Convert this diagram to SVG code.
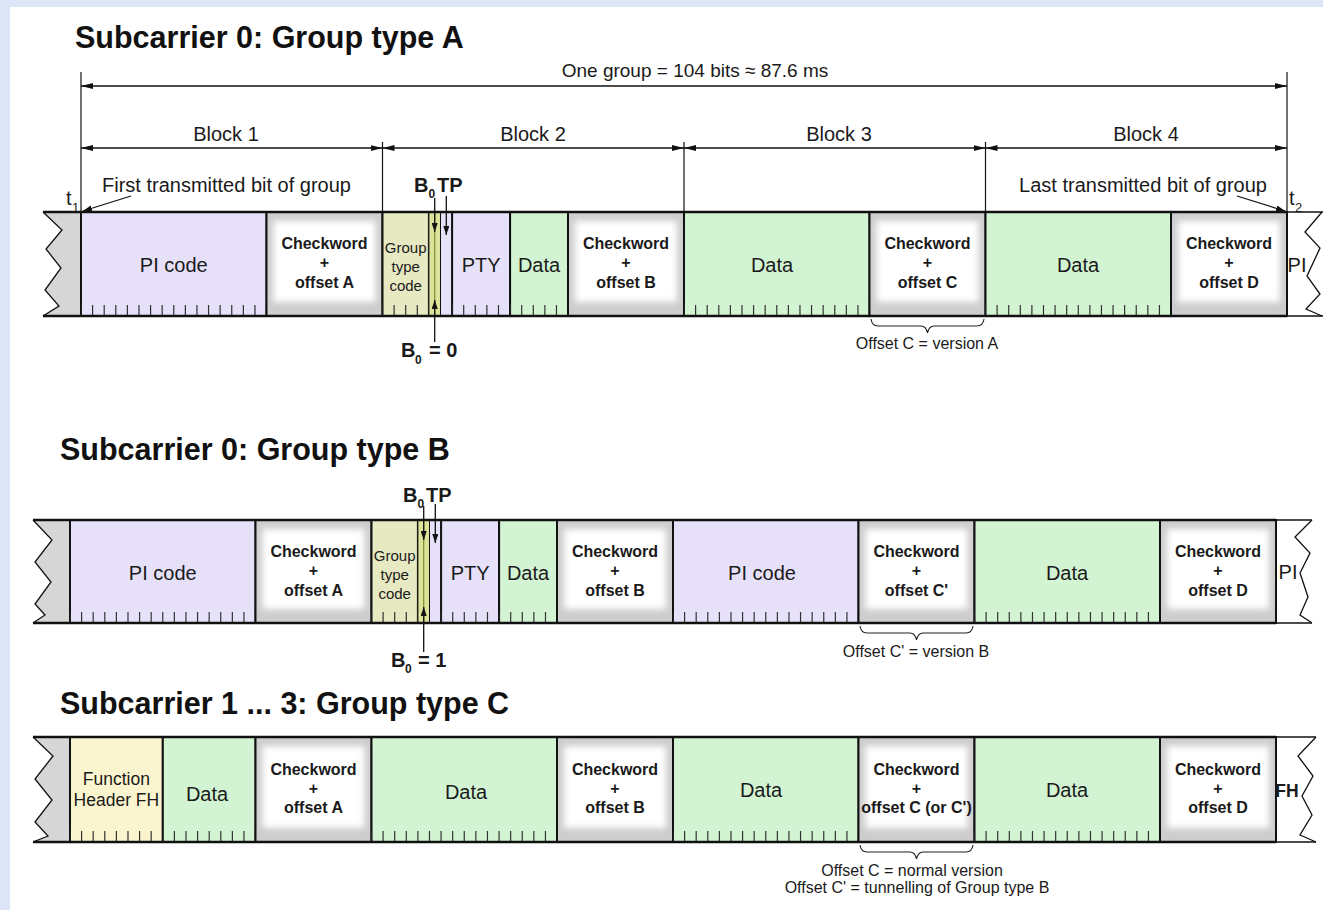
<svg xmlns="http://www.w3.org/2000/svg" width="1323" height="910" viewBox="0 0 1323 910">
<defs>
<style>
text{font-family:"Liberation Sans",Arial,Helvetica,sans-serif;fill:#1a1a1a}
.title{font-size:30.5px;font-weight:bold;fill:#111}
.dim{font-size:19px}
.blk{font-size:20px;text-anchor:middle}
.note{font-size:20px}
.big{font-size:20px;text-anchor:middle}
.cw{font-size:16px;font-weight:bold;text-anchor:middle}
.gtc{font-size:15px;text-anchor:middle}
.fh{font-size:17.5px;text-anchor:middle}
.lbl{font-size:20px;font-weight:bold}
.sub{font-size:12px;font-weight:bold}
.tsub{font-size:13px}
.off{font-size:16px;text-anchor:middle}
.pi{fill:#e6e1f8}
.data{fill:#d3f4d3}
.gt{fill:#e6e9c2}
.b0{fill:#dce29a}
.fhc{fill:#fbf5cf}
.cwbg{fill:#cdcdcd}
.cwin{fill:#ffffff}
.cell{stroke:#111;stroke-width:2}
.strip{stroke:#111;stroke-width:1}
.tick{stroke:#333;stroke-width:11;stroke-dasharray:1.2 10.396;stroke-dashoffset:0.6;fill:none}
.frame{stroke:#111;stroke-width:2.5;fill:none}
.thin{stroke:#111;stroke-width:1.3;fill:none}
.zzf{fill:#d6d6d6}
.ext{stroke:#111;stroke-width:1.2}
.dl{stroke:#111;stroke-width:1.3}
.brace{stroke:#222;stroke-width:1.1;fill:none}
.b0line{stroke:#7d8c2c;stroke-width:1.2}
</style>
<filter id="soft" x="-20%" y="-20%" width="140%" height="140%"><feGaussianBlur stdDeviation="3"/></filter>
<marker id="ah" viewBox="0 0 12 6" refX="12" refY="3" markerWidth="12" markerHeight="6" markerUnits="userSpaceOnUse" orient="auto-start-reverse"><path d="M0,0 L12,3 L0,6 z" fill="#111"/></marker>
<marker id="sa" viewBox="0 0 9 6" refX="9" refY="3" markerWidth="9" markerHeight="6" markerUnits="userSpaceOnUse" orient="auto"><path d="M0,0 L9,3 L0,6 z" fill="#111"/></marker>
</defs>

<rect x="0" y="0" width="1323" height="910" fill="#dde6f7"/>
<rect x="10" y="7" width="1313" height="903" fill="#ffffff"/>

<text class="title" x="75" y="48">Subcarrier 0: Group type A</text>
<text class="title" x="60" y="460">Subcarrier 0: Group type B</text>
<text class="title" x="60" y="714">Subcarrier 1 ... 3: Group type C</text>

<!-- ===== Group A row ===== -->
<g id="rowA-left"><polygon class="zzf" points="81,212 43,212 62,230 46,249 61,268 45,290 59,306 43,316 81,316"/><polyline class="thin" points="43,212 62,230 46,249 61,268 45,290 59,306 43,316"/></g>
<g id="A-pi"><rect class="pi cell" x="81" y="212" width="185.5" height="104"/><line class="tick" x1="81" y1="310.5" x2="266.5" y2="310.5"/><text class="big" x="173.75" y="272">PI code</text></g>
<g id="A-cwA"><rect class="cwbg cell" x="266.5" y="212" width="116" height="104"/><rect class="cwin" x="273.5" y="221" width="102" height="81" filter="url(#soft)"/><text class="cw" x="324.5" y="249">Checkword</text><text class="cw" x="324.5" y="268">+</text><text class="cw" x="324.5" y="288">offset A</text></g>
<g id="A-gtc"><rect class="gt cell" x="382.5" y="212" width="46.4" height="104"/><line class="tick" x1="382.5" y1="310.5" x2="428.9" y2="310.5"/><text class="gtc" x="405.7" y="253">Group</text><text class="gtc" x="405.7" y="272">type</text><text class="gtc" x="405.7" y="291">code</text></g>
<g id="A-b0"><rect class="b0 strip" x="428.9" y="212" width="11.6" height="104"/><line class="b0line" x1="434.7" y1="212" x2="434.7" y2="316"/></g>
<g id="A-tp"><rect class="pi strip" x="440.5" y="212" width="11.6" height="104"/></g>
<g id="A-pty"><rect class="pi cell" x="452.1" y="212" width="58" height="104"/><line class="tick" x1="452.1" y1="310.5" x2="510.1" y2="310.5"/><text class="big" x="481.1" y="272">PTY</text></g>
<g id="A-data1"><rect class="data cell" x="510.1" y="212" width="57.9" height="104"/><line class="tick" x1="510.1" y1="310.5" x2="568" y2="310.5"/><text class="big" x="539" y="272">Data</text></g>
<g id="A-cwB"><rect class="cwbg cell" x="568" y="212" width="116" height="104"/><rect class="cwin" x="575" y="221" width="102" height="81" filter="url(#soft)"/><text class="cw" x="626" y="249">Checkword</text><text class="cw" x="626" y="268">+</text><text class="cw" x="626" y="288">offset B</text></g>
<g id="A-data2"><rect class="data cell" x="684" y="212" width="185.5" height="104"/><line class="tick" x1="684" y1="310.5" x2="869.5" y2="310.5"/><text class="big" x="772" y="272">Data</text></g>
<g id="A-cwC"><rect class="cwbg cell" x="869.5" y="212" width="116" height="104"/><rect class="cwin" x="876.5" y="221" width="102" height="81" filter="url(#soft)"/><text class="cw" x="927.5" y="249">Checkword</text><text class="cw" x="927.5" y="268">+</text><text class="cw" x="927.5" y="288">offset C</text></g>
<g id="A-data3"><rect class="data cell" x="985.5" y="212" width="185.5" height="104"/><line class="tick" x1="985.5" y1="310.5" x2="1171" y2="310.5"/><text class="big" x="1078" y="272">Data</text></g>
<g id="A-cwD"><rect class="cwbg cell" x="1171" y="212" width="116" height="104"/><rect class="cwin" x="1178" y="221" width="102" height="81" filter="url(#soft)"/><text class="cw" x="1229" y="249">Checkword</text><text class="cw" x="1229" y="268">+</text><text class="cw" x="1229" y="288">offset D</text></g>
<g id="A-next"><polyline class="thin" points="1322,212 1305,232 1320,248 1307,276 1320,294 1306,309 1322,316"/><text class="big" x="1297" y="272">PI</text></g>
<g id="A-frame"><line class="frame" x1="43" y1="212" x2="1287" y2="212"/><line class="frame" x1="43" y1="316" x2="1287" y2="316"/><line class="thin" x1="1287" y1="212" x2="1323" y2="212"/><line class="thin" x1="1287" y1="316" x2="1323" y2="316"/></g>

<!-- ===== Group B row ===== -->
<g id="rowB-left"><polygon class="zzf" points="70,520 33,520 52,540 35,562 51,582 35,604 45,615 33,623 70,623"/><polyline class="thin" points="33,520 52,540 35,562 51,582 35,604 45,615 33,623"/></g>
<g id="B-pi"><rect class="pi cell" x="70" y="520" width="185.5" height="103"/><line class="tick" x1="70" y1="617.5" x2="255.5" y2="617.5"/><text class="big" x="162.75" y="580">PI code</text></g>
<g id="B-cwA"><rect class="cwbg cell" x="255.5" y="520" width="116" height="103"/><rect class="cwin" x="262.5" y="529" width="102" height="80" filter="url(#soft)"/><text class="cw" x="313.5" y="557">Checkword</text><text class="cw" x="313.5" y="575.5">+</text><text class="cw" x="313.5" y="596">offset A</text></g>
<g id="B-gtc"><rect class="gt cell" x="371.5" y="520" width="46.4" height="103"/><line class="tick" x1="371.5" y1="617.5" x2="417.9" y2="617.5"/><text class="gtc" x="394.7" y="561">Group</text><text class="gtc" x="394.7" y="580">type</text><text class="gtc" x="394.7" y="599">code</text></g>
<g id="B-b0"><rect class="b0 strip" x="417.9" y="520" width="11.6" height="103"/><line class="b0line" x1="423.7" y1="520" x2="423.7" y2="623"/></g>
<g id="B-tp"><rect class="pi strip" x="429.5" y="520" width="11.6" height="103"/></g>
<g id="B-pty"><rect class="pi cell" x="441.1" y="520" width="58" height="103"/><line class="tick" x1="441.1" y1="617.5" x2="499.1" y2="617.5"/><text class="big" x="470.1" y="580">PTY</text></g>
<g id="B-data1"><rect class="data cell" x="499.1" y="520" width="57.9" height="103"/><line class="tick" x1="499.1" y1="617.5" x2="557" y2="617.5"/><text class="big" x="528" y="580">Data</text></g>
<g id="B-cwB"><rect class="cwbg cell" x="557" y="520" width="116" height="103"/><rect class="cwin" x="564" y="529" width="102" height="80" filter="url(#soft)"/><text class="cw" x="615" y="557">Checkword</text><text class="cw" x="615" y="575.5">+</text><text class="cw" x="615" y="596">offset B</text></g>
<g id="B-pi2"><rect class="pi cell" x="673" y="520" width="185.5" height="103"/><line class="tick" x1="673" y1="617.5" x2="858.5" y2="617.5"/><text class="big" x="762" y="580">PI code</text></g>
<g id="B-cwC"><rect class="cwbg cell" x="858.5" y="520" width="116" height="103"/><rect class="cwin" x="865.5" y="529" width="102" height="80" filter="url(#soft)"/><text class="cw" x="916.5" y="557">Checkword</text><text class="cw" x="916.5" y="575.5">+</text><text class="cw" x="916.5" y="596">offset C'</text></g>
<g id="B-data2"><rect class="data cell" x="974.5" y="520" width="185.5" height="103"/><line class="tick" x1="974.5" y1="617.5" x2="1160" y2="617.5"/><text class="big" x="1067" y="580">Data</text></g>
<g id="B-cwD"><rect class="cwbg cell" x="1160" y="520" width="116" height="103"/><rect class="cwin" x="1167" y="529" width="102" height="80" filter="url(#soft)"/><text class="cw" x="1218" y="557">Checkword</text><text class="cw" x="1218" y="575.5">+</text><text class="cw" x="1218" y="596">offset D</text></g>
<g id="B-next"><polyline class="thin" points="1312,520 1295,537 1310,553 1300,573 1308,597 1300,615 1312,623"/><text class="big" x="1288" y="579">PI</text></g>
<g id="B-frame"><line class="frame" x1="33" y1="520" x2="1276" y2="520"/><line class="frame" x1="33" y1="623" x2="1276" y2="623"/><line class="thin" x1="1276" y1="520" x2="1312" y2="520"/><line class="thin" x1="1276" y1="623" x2="1312" y2="623"/></g>

<!-- ===== Group C row ===== -->
<g id="rowC-left"><polygon class="zzf" points="70,737 33,737 53,756 35,779 52,800 35,822 48,836 33,842 70,842"/><polyline class="thin" points="33,737 53,756 35,779 52,800 35,822 48,836 33,842"/></g>
<g id="C-fh"><rect class="fhc cell" x="70" y="737" width="92.8" height="105"/><line class="tick" x1="70" y1="836.5" x2="162.8" y2="836.5"/><text class="fh" x="116.4" y="785">Function</text><text class="fh" x="116.4" y="806">Header FH</text></g>
<g id="C-data1"><rect class="data cell" x="162.8" y="737" width="92.7" height="105"/><line class="tick" x1="162.8" y1="836.5" x2="255.5" y2="836.5"/><text class="big" x="207" y="801">Data</text></g>
<g id="C-cwA"><rect class="cwbg cell" x="255.5" y="737" width="116" height="105"/><rect class="cwin" x="262.5" y="746" width="102" height="82" filter="url(#soft)"/><text class="cw" x="313.5" y="775">Checkword</text><text class="cw" x="313.5" y="793.5">+</text><text class="cw" x="313.5" y="813">offset A</text></g>
<g id="C-data2"><rect class="data cell" x="371.5" y="737" width="185.5" height="105"/><line class="tick" x1="371.5" y1="836.5" x2="557" y2="836.5"/><text class="big" x="466" y="799">Data</text></g>
<g id="C-cwB"><rect class="cwbg cell" x="557" y="737" width="116" height="105"/><rect class="cwin" x="564" y="746" width="102" height="82" filter="url(#soft)"/><text class="cw" x="615" y="775">Checkword</text><text class="cw" x="615" y="793.5">+</text><text class="cw" x="615" y="813">offset B</text></g>
<g id="C-data3"><rect class="data cell" x="673" y="737" width="185.5" height="105"/><line class="tick" x1="673" y1="836.5" x2="858.5" y2="836.5"/><text class="big" x="761" y="797">Data</text></g>
<g id="C-cwC"><rect class="cwbg cell" x="858.5" y="737" width="116" height="105"/><rect class="cwin" x="865.5" y="746" width="102" height="82" filter="url(#soft)"/><text class="cw" x="916.5" y="775">Checkword</text><text class="cw" x="916.5" y="793.5">+</text><text class="cw" x="916.5" y="813">offset C (or C')</text></g>
<g id="C-data4"><rect class="data cell" x="974.5" y="737" width="185.5" height="105"/><line class="tick" x1="974.5" y1="836.5" x2="1160" y2="836.5"/><text class="big" x="1067" y="797">Data</text></g>
<g id="C-cwD"><rect class="cwbg cell" x="1160" y="737" width="116" height="105"/><rect class="cwin" x="1167" y="746" width="102" height="82" filter="url(#soft)"/><text class="cw" x="1218" y="775">Checkword</text><text class="cw" x="1218" y="793.5">+</text><text class="cw" x="1218" y="813">offset D</text></g>
<g id="C-next"><polyline class="thin" points="1316,737 1298,756 1313,776 1302,796 1312,815 1300,835 1316,842"/><text class="fh" x="1287" y="797" font-weight="bold">FH</text></g>
<g id="C-frame"><line class="frame" x1="33" y1="737" x2="1276" y2="737"/><line class="frame" x1="33" y1="842" x2="1276" y2="842"/><line class="thin" x1="1276" y1="737" x2="1316" y2="737"/><line class="thin" x1="1276" y1="842" x2="1316" y2="842"/></g>

<!-- ===== Connectors ===== -->
<g id="connectors">
<line class="ext" x1="81" y1="72" x2="81" y2="212"/>
<line class="ext" x1="1287" y1="72" x2="1287" y2="316"/>
<line class="ext" x1="382.5" y1="142" x2="382.5" y2="212"/>
<line class="ext" x1="684" y1="142" x2="684" y2="212"/>
<line class="ext" x1="985.5" y1="142" x2="985.5" y2="212"/>
<line class="dl" x1="81" y1="86" x2="1287" y2="86" marker-start="url(#ah)" marker-end="url(#ah)"/>
<line class="dl" x1="81" y1="148" x2="382.5" y2="148" marker-start="url(#ah)" marker-end="url(#ah)"/>
<line class="dl" x1="382.5" y1="148" x2="684" y2="148" marker-start="url(#ah)" marker-end="url(#ah)"/>
<line class="dl" x1="684" y1="148" x2="985.5" y2="148" marker-start="url(#ah)" marker-end="url(#ah)"/>
<line class="dl" x1="985.5" y1="148" x2="1287" y2="148" marker-start="url(#ah)" marker-end="url(#ah)"/>
<line class="dl" x1="131" y1="196" x2="83" y2="211" marker-end="url(#sa)"/>
<line class="dl" x1="1237" y1="196" x2="1285" y2="211" marker-end="url(#sa)"/>
<line class="dl" x1="434.7" y1="198" x2="434.7" y2="232" marker-end="url(#sa)"/>
<line class="dl" x1="446.3" y1="196" x2="446.3" y2="235" marker-end="url(#sa)"/>
<line class="dl" x1="434.7" y1="342" x2="434.7" y2="300" marker-end="url(#sa)"/>
<line class="dl" x1="423.7" y1="506" x2="423.7" y2="540" marker-end="url(#sa)"/>
<line class="dl" x1="435.3" y1="504" x2="435.3" y2="543" marker-end="url(#sa)"/>
<line class="dl" x1="423.7" y1="652" x2="423.7" y2="607" marker-end="url(#sa)"/>
<path class="brace" d="M871,319 Q872,326 878,326 L921,326 Q926,326 927.5,333 Q929,326 934,326 L977,326 Q983,326 984,319"/>
<path class="brace" d="M860,626 Q861,633 867,633 L910,633 Q915,633 916.5,640 Q918,633 923,633 L966,633 Q972,633 973,626"/>
<path class="brace" d="M860,845 Q861,852 867,852 L910,852 Q915,852 916.5,859 Q918,852 923,852 L966,852 Q972,852 973,845"/>
</g>

<!-- ===== Labels ===== -->
<g id="labels">
<text class="dim" x="695" y="77" text-anchor="middle">One group = 104 bits ≈ 87.6 ms</text>
<text class="blk" x="226" y="141">Block 1</text>
<text class="blk" x="533" y="141">Block 2</text>
<text class="blk" x="839" y="141">Block 3</text>
<text class="blk" x="1146" y="141">Block 4</text>
<text class="note" x="102" y="192">First transmitted bit of group</text>
<text class="note" x="1267" y="192" text-anchor="end">Last transmitted bit of group</text>
<text class="note" x="66" y="205">t</text><text class="tsub" x="72" y="212">1</text>
<text class="note" x="1289" y="205">t</text><text class="tsub" x="1295" y="212">2</text>
<text class="lbl" x="414" y="192">B</text><text class="sub" x="428.5" y="198">0</text><text class="lbl" x="437" y="192">TP</text>
<text class="lbl" x="401" y="357">B</text><text class="sub" x="415" y="364">0</text><text class="lbl" x="429" y="357">= 0</text>
<text class="lbl" x="403" y="502">B</text><text class="sub" x="417.5" y="508">0</text><text class="lbl" x="426" y="502">TP</text>
<text class="lbl" x="391" y="667">B</text><text class="sub" x="405" y="673">0</text><text class="lbl" x="418" y="667">= 1</text>
<text class="off" x="927" y="349">Offset C = version  A</text>
<text class="off" x="916" y="657">Offset C' = version  B</text>
<text class="off" x="912" y="876">Offset C = normal version</text>
<text class="off" x="917" y="893">Offset C' = tunnelling of Group type B</text>
</g>
</svg>
